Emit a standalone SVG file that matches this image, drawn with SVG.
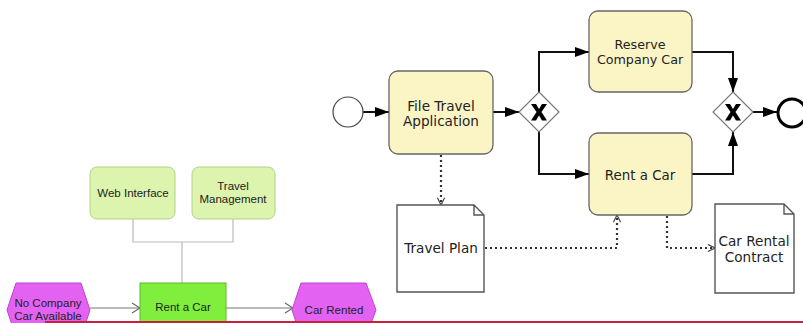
<svg xmlns="http://www.w3.org/2000/svg" width="803" height="323" viewBox="0 0 803 323">
  <style>
    .task { fill: #fbf5c6; stroke: #666; stroke-width: 1.3; }
    .doc { fill: #fff; stroke: #555; stroke-width: 1.4; }
    .gw { fill: #fff; stroke: #777; stroke-width: 1.2; }
    .btxt { font-family: "DejaVu Sans", sans-serif; font-size: 13.6px; fill: #222; text-anchor: middle; }
    .flow { fill: none; stroke: #111; stroke-width: 2; }
    .assoc { fill: none; stroke: #333; stroke-width: 2.2; stroke-dasharray: 2 3; }
    .org { fill: #dcf4ae; stroke: #b2d286; stroke-width: 1; }
    .fn { fill: #80ee3c; stroke: #5cb82c; stroke-width: 1; }
    .ev { fill: #e362f2; stroke: #c044d2; stroke-width: 1; }
    .ltxt { font-family: "Liberation Sans", Arial, sans-serif; font-size: 11.5px; fill: #222; text-anchor: middle; }
    .gline { fill: none; stroke: #bbb; stroke-width: 1.2; }
    .eflow { fill: none; stroke: #777; stroke-width: 1.2; }
  </style>
  <defs>
    <marker id="tri" viewBox="0 0 14 10" refX="14" refY="5" markerWidth="14" markerHeight="10" markerUnits="userSpaceOnUse" orient="auto">
      <path d="M0,0 L14,5 L0,10 z" fill="#000"/>
    </marker>
    <marker id="openv" viewBox="0 0 10 10" refX="9" refY="5" markerWidth="9" markerHeight="9" markerUnits="userSpaceOnUse" orient="auto">
      <path d="M1,1 L9,5 L1,9" fill="none" stroke="#444" stroke-width="1.3"/>
    </marker>
    <marker id="gv" viewBox="0 0 10 12" refX="9" refY="6" markerWidth="10" markerHeight="12" markerUnits="userSpaceOnUse" orient="auto">
      <path d="M1,1 L9,6 L1,11" fill="none" stroke="#666" stroke-width="1.2"/>
    </marker>
  </defs>

  <!-- BPMN connectors -->
  <g id="connectors">
    <path class="flow" d="M363,112 H389" marker-end="url(#tri)"/>
    <path class="flow" d="M493,112 H519" marker-end="url(#tri)"/>
    <path class="flow" d="M539,92 V52 H589" marker-end="url(#tri)"/>
    <path class="flow" d="M539,132 V174 H589" marker-end="url(#tri)"/>
    <path class="flow" d="M692,52 H733 V92" marker-end="url(#tri)"/>
    <path class="flow" d="M692,174 H733 V132" marker-end="url(#tri)"/>
    <path class="flow" d="M753,112 H777" marker-end="url(#tri)"/>
    <path class="assoc" d="M441,155 V205" marker-end="url(#openv)"/>
    <path class="assoc" d="M485,248 H617 V215" marker-end="url(#openv)"/>
    <path class="assoc" d="M667,216 V248 H715" marker-end="url(#openv)"/>
    <!-- EPC connectors -->
    <path class="gline" d="M133,219 V242 H233 V219 M182,242 V283"/>
    <path class="eflow" d="M90,308 H140" marker-end="url(#gv)"/>
    <path class="eflow" d="M226,308 H293" marker-end="url(#gv)"/>
  </g>

  <g id="start">
    <circle cx="348" cy="112" r="15" fill="#fff" stroke="#444" stroke-width="1.2"/>
  </g>

  <g id="file-travel-application">
    <rect class="task" x="389" y="71" width="104" height="83" rx="9"/>
    <text class="btxt" x="441" y="110.5">File Travel</text>
    <text class="btxt" x="441" y="125.5">Application</text>
  </g>

  <g id="split-gateway">
    <path class="gw" d="M539,92 L559,112 L539,132 L519,112 z"/>
    <path d="M531,104 h5 l3,5 l3,-5 h5 l-5.5,8 l5.5,8.5 h-5 l-3,-5 l-3,5 h-5 l5.5,-8.5 z" fill="#000"/>
  </g>

  <g id="reserve-company-car">
    <rect class="task" x="589" y="11" width="103" height="81" rx="9"/>
    <text class="btxt" x="640" y="49" style="font-size:12.7px">Reserve</text>
    <text class="btxt" x="640" y="64" style="font-size:12.7px">Company Car</text>
  </g>

  <g id="rent-a-car">
    <rect class="task" x="589" y="133" width="103" height="82" rx="9"/>
    <text class="btxt" x="640" y="180" style="font-size:13.4px">Rent a Car</text>
  </g>

  <g id="join-gateway">
    <path class="gw" d="M733,92 L753,112 L733,132 L713,112 z"/>
    <path d="M725,104 h5 l3,5 l3,-5 h5 l-5.5,8 l5.5,8.5 h-5 l-3,-5 l-3,5 h-5 l5.5,-8.5 z" fill="#000"/>
  </g>

  <g id="end">
    <circle cx="792" cy="113" r="14" fill="#fff" stroke="#000" stroke-width="3"/>
  </g>

  <g id="travel-plan">
    <path class="doc" d="M397,205 H474 L484,215 V292 H397 z M474,205 V215 H484"/>
    <text class="btxt" x="441" y="253">Travel Plan</text>
  </g>

  <g id="car-rental-contract">
    <path class="doc" d="M715,204 H784 L794,214 V293 H715 z M784,204 V214 H794"/>
    <text class="btxt" x="754" y="246">Car Rental</text>
    <text class="btxt" x="754" y="261.5">Contract</text>
  </g>

  <!-- EPC part -->
  <g id="web-interface">
    <rect class="org" x="90" y="167" width="85" height="52" rx="7"/>
    <text class="ltxt" x="133" y="197">Web Interface</text>
  </g>

  <g id="travel-management">
    <rect class="org" x="192" y="167" width="83" height="52" rx="7"/>
    <text class="ltxt" x="233" y="190">Travel</text>
    <text class="ltxt" x="233" y="203">Management</text>
  </g>

  <g id="epc-rent-a-car">
    <rect class="fn" x="140" y="283" width="86" height="50"/>
    <text class="ltxt" x="183" y="311">Rent a Car</text>
  </g>

  <g id="no-company-car">
    <path class="ev" d="M16,283 H81 L90,310 L81,337 H16 L7,310 z"/>
    <text class="ltxt" x="48" y="307">No Company</text>
    <text class="ltxt" x="48" y="320">Car Available</text>
  </g>

  <g id="car-rented">
    <path class="ev" d="M301,283 H366 L376,310 L366,337 H301 L292,310 z"/>
    <text class="ltxt" x="334" y="314">Car Rented</text>
  </g>

  <line x1="45" y1="322" x2="803" y2="322" stroke="#c8203c" stroke-width="2"/>
</svg>
